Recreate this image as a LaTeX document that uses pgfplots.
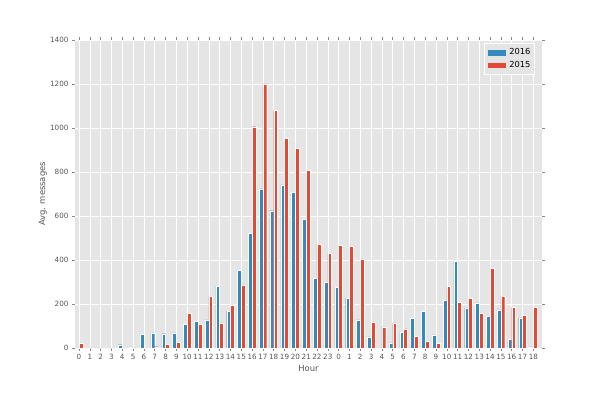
\documentclass[border=0pt]{standalone}
\usepackage{pgfplots}
\pgfplotsset{compat=1.18}
\usepackage{pgfplotstable}
\usepackage{fontspec}
\setmainfont{DejaVu Sans}
\definecolor{ggblue}{HTML}{348ABD}
\definecolor{ggred}{HTML}{E24A33}
\definecolor{ggbg}{HTML}{E5E5E5}
\definecolor{ggtick}{HTML}{555555}

\pgfplotstableread{
i b16 r15
0 0 20
1 0 0
2 0 0
3 0 0
4 15 0
5 5 0
6 63 0
7 69 6
8 65 17
9 69 26
10 108 158
11 120 108
12 128 235
13 280 114
14 168 196
15 353 287
16 520 1006
17 723 1200
18 624 1080
19 741 954
20 707 907
21 584 808
22 317 472
23 299 430
24 277 466
25 227 463
26 128 405
27 51 117
28 0 96
29 23 114
30 72 87
31 135 54
32 167 29
33 60 20
34 218 280
35 394 209
36 182 227
37 205 158
38 144 362
39 173 236
40 38 185
41 137 149
42 5 186
}\data

\begin{document}
\begin{tikzpicture}
\begin{axis}[
  at={(0pt,0pt)}, anchor=south west,
  scale only axis, width=467pt, height=308pt,
  xmin=-0.37, xmax=42.8, ymin=0, ymax=1400,
  ybar, bar width=0.35,
  axis background/.style={fill=ggbg},
  axis line style={draw=none},
  grid=major, grid style={white, line width=0.6pt},
  xtick={0,...,42},
  xticklabels={0,1,2,3,4,5,6,7,8,9,10,11,12,13,14,15,16,17,18,19,20,21,22,23,0,1,2,3,4,5,6,7,8,9,10,11,12,13,14,15,16,17,18},
  ytick={0,200,...,1400},
  /pgf/number format/1000 sep={},
  /pgf/number format/assume math mode=true,
  tick align=outside, major tick length=3pt,
  tick style={color=ggtick!70, line width=0.5pt},
  tick label style={font=\fontsize{7.2}{8}\selectfont, color=ggtick},
  xlabel={Hour}, ylabel={Avg. messages},
  label style={font=\fontsize{8.4}{10}\selectfont, color=ggtick},
  xlabel style={at={(axis description cs:0.5,-0.068)}, anchor=center},
  ylabel style={at={(axis description cs:-0.0685,0.5)}, anchor=center},
  legend style={at={(rel axis cs:0.985,0.99)}, anchor=north east,
    fill=ggbg, draw=white, line width=0.8pt, font=\fontsize{8.3}{9.5}\selectfont,
    inner xsep=3pt, inner ysep=4pt, row sep=2.4pt,
    nodes={inner sep=1.2pt}},
  legend cell align=left,
]
\addplot[fill=ggblue, draw=white, line width=0.3pt, bar shift=-0.175,
  legend image code/.code={\fill[ggblue] (0pt,-2.2pt) rectangle (17pt,2.2pt);}]
  table[x=i, y=b16] {\data};
\addlegendentry{\hspace{3pt}2016}
\addplot[fill=ggred, draw=white, line width=0.3pt, bar shift=0.175,
  legend image code/.code={\fill[ggred] (0pt,-2.2pt) rectangle (17pt,2.2pt);}]
  table[x=i, y=r15] {\data};
\addlegendentry{\hspace{3pt}2015}
\end{axis}
\path[use as bounding box] (-75pt,-51pt) rectangle (525pt,348pt);
\end{tikzpicture}
\end{document}
